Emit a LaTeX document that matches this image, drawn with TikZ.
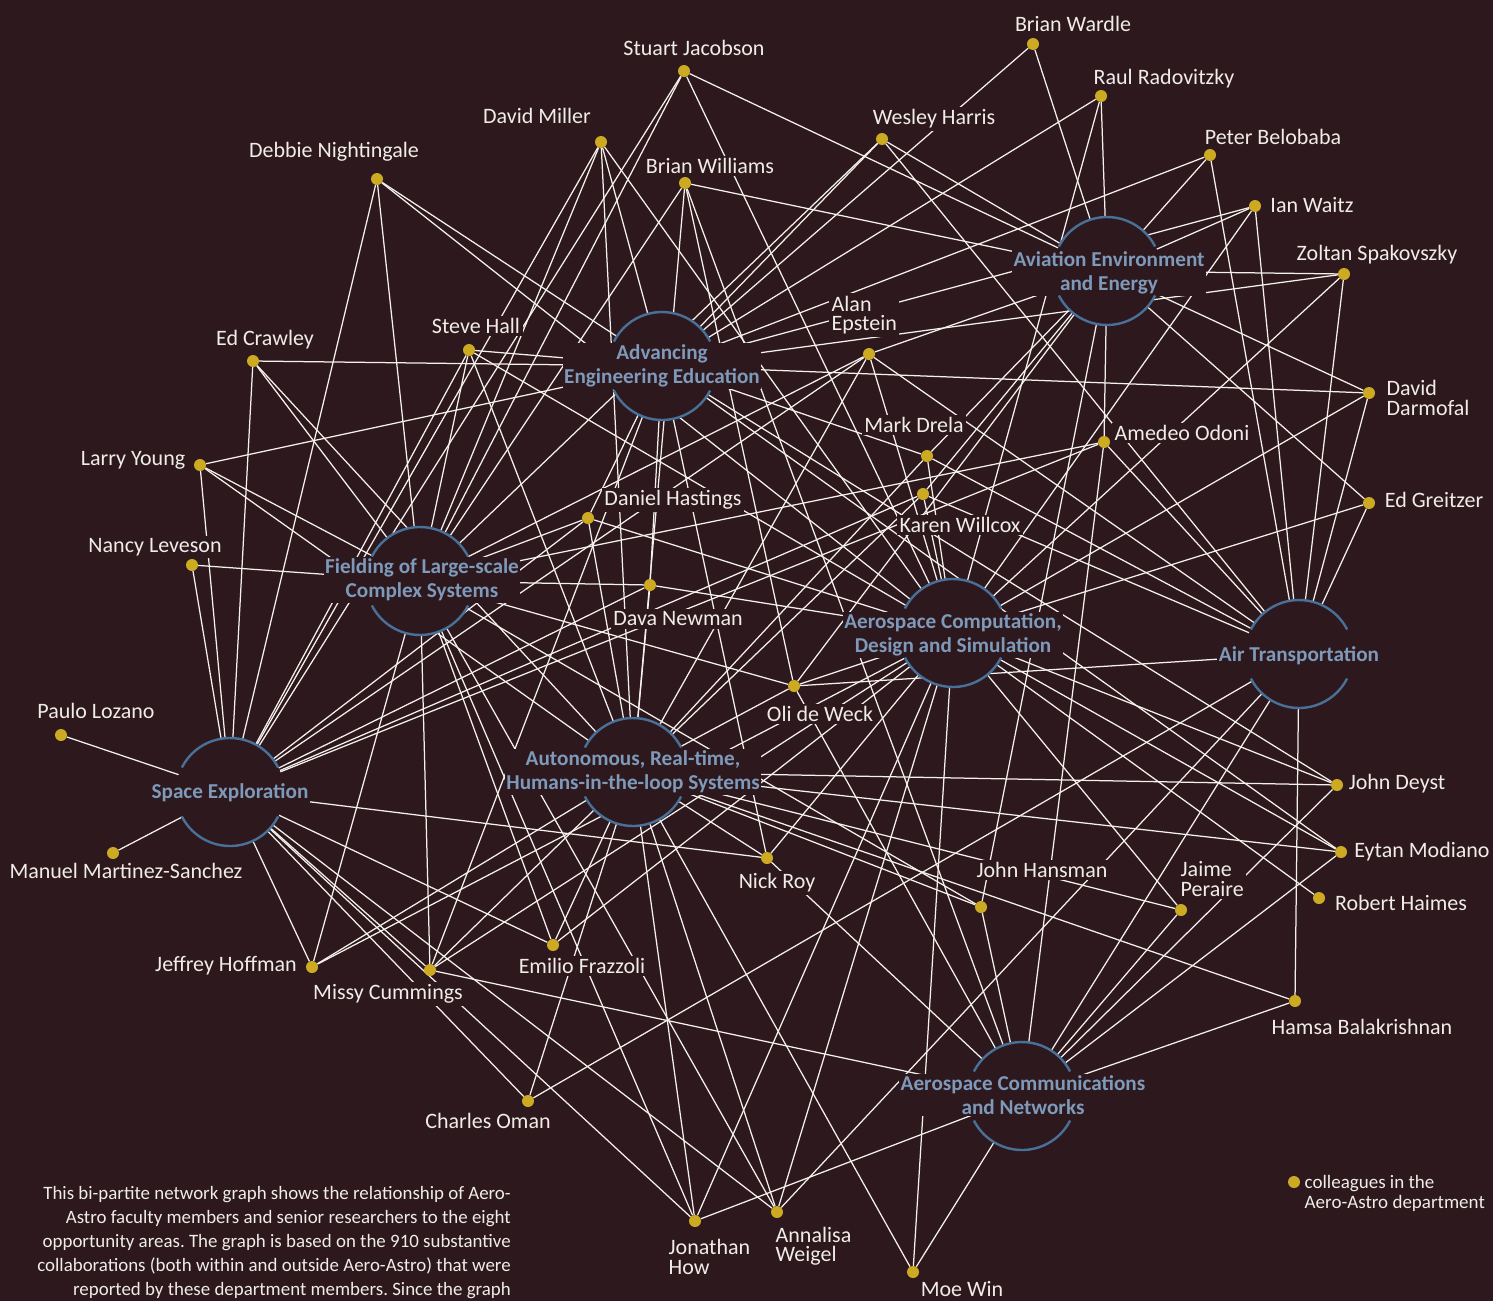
\documentclass[tikz,border=0pt]{standalone}
\usepackage{fontspec}
\setmainfont{Carlito}
\frenchspacing
\usetikzlibrary{positioning}
\definecolor{bgc}{RGB}{45,25,29}
\definecolor{dotc}{RGB}{204,170,34}
\definecolor{edgec}{RGB}{244,240,236}
\definecolor{rimc}{RGB}{72,112,152}
\definecolor{areac}{RGB}{126,153,186}
\definecolor{namec}{RGB}{240,236,232}
\pgfdeclarelayer{back}
\pgfdeclarelayer{links}
\pgfsetlayers{back,links,main}

\begin{document}
\begin{tikzpicture}[
  x=1pt, y=-1pt,
  pdot/.style={circle, fill=dotc, minimum size=12pt, inner sep=0pt},
  hub/.style={circle, fill=bgc, minimum size=108pt, inner sep=0pt},
  rim/.style={draw=rimc, line width=2.4pt},
  link/.style={draw=edgec, line width=1.25pt},
  who/.style={text=namec, fill=bgc, inner sep=2.5pt, font=\fontsize{22}{19.5}\selectfont},
  whol/.style={who, align=left, anchor=west},
  hubtext/.style={text=areac, fill=bgc, inner sep=1.5pt, align=center, font=\bfseries\fontsize{21.2}{24}\selectfont},
  blurbtext/.style={text=namec, align=right, inner sep=0pt, font=\fontsize{18.9}{24}\selectfont},
]
\useasboundingbox (0,0) rectangle (1493,1301);
\begin{pgfonlayer}{back}
  \fill[bgc] (0,0) rectangle (1493,1301);
\end{pgfonlayer}

% opportunity areas
\node[hub] (edu) at (662,366) {};
\node[hub] (aee) at (1107,271) {};
\node[hub] (fls) at (420,581) {};
\node[hub] (spx) at (230,792) {};
\node[hub] (aut) at (633,772) {};
\node[hub] (acd) at (953,633) {};
\node[hub] (air) at (1299,654) {};
\node[hub] (acn) at (1022,1096) {};

\node[hubtext] (edu-t) at (662,366) {Advancing\\Engineering Education};
\node[hubtext] (aee-t) at (1109,273) {Aviation Environment\\and Energy};
\node[hubtext] (fls-t) at (422,580) {Fielding of Large-scale\\Complex Systems};
\node[hubtext] (spx-t) at (230,793) {Space Exploration};
\node[hubtext] (aut-t) at (633,772) {Autonomous, Real-time,\\Humans-in-the-loop Systems};
\node[hubtext] (acd-t) at (953,635) {Aerospace Computation,\\Design and Simulation};
\node[hubtext] (air-t) at (1299,656) {Air Transportation};
\node[hubtext] (acn-t) at (1023,1095) {Aerospace Communications\\and Networks};

% open rings round each area
\foreach \h in {edu,aee,fls,spx,aut,acd,air,acn} {
  \draw[rim] ([shift={(27:54)}]\h.center) arc[start angle=27, end angle=153, radius=54];
  \draw[rim] ([shift={(207:54)}]\h.center) arc[start angle=207, end angle=333, radius=54];
}

% names
\node[who] (wardle-t) at (1073,24) {Brian Wardle};
\node[who] (raul-t) at (1164,79) {Raul Radovitzky};
\node[who] (stuart-t) at (694,48) {Stuart Jacobson};
\node[who] (wesley-t) at (934,119) {Wesley Harris};
\node[who] (belobaba-t) at (1273,137) {Peter Belobaba};
\node[who] (miller-t) at (537,116) {David Miller};
\node[who] (williams-t) at (710,166) {Brian Williams};
\node[who] (nightingale-t) at (334,152) {Debbie Nightingale};
\node[who] (waitz-t) at (1312,205) {Ian Waitz};
\node[who] (zoltan-t) at (1377,255) {Zoltan Spakovszky};
\node[whol] (epstein-t) at (829,315) {Alan\\Epstein};
\node[who] (crawley-t) at (265,340) {Ed Crawley};
\node[who] (hall-t) at (476,326) {Steve Hall};
\node[whol] (darmofal-t) at (1384,398) {David\\Darmofal};
\node[who] (drela-t) at (914,425) {Mark Drela};
\node[who] (odoni-t) at (1182,433) {Amedeo Odoni};
\node[who] (young-t) at (133,460) {Larry Young};
\node[who] (hastings-t) at (673,500) {Daniel Hastings};
\node[who] (willcox-t) at (960,525) {Karen Willcox};
\node[who] (greitzer-t) at (1434,500) {Ed Greitzer};
\node[who] (leveson-t) at (155,547) {Nancy Leveson};
\node[who] (newman-t) at (678,619) {Dava Newman};
\node[who] (deweck-t) at (820,714) {Oli de Weck};
\node[who] (lozano-t) at (96,711) {Paulo Lozano};
\node[who] (deyst-t) at (1397,784) {John Deyst};
\node[who] (modiano-t) at (1422,852) {Eytan Modiano};
\node[who] (martinez-t) at (126,871) {Manuel Martinez-Sanchez};
\node[who] (roy-t) at (777,883) {Nick Roy};
\node[who] (hansman-t) at (1042,870) {John Hansman};
\node[whol] (peraire-t) at (1178,879) {Jaime\\Peraire};
\node[who] (haimes-t) at (1401,903) {Robert Haimes};
\node[who] (frazzoli-t) at (582,966) {Emilio Frazzoli};
\node[who] (hoffman-t) at (226,966) {Jeffrey Hoffman};
\node[who] (cummings-t) at (388,994) {Missy Cummings};
\node[who] (balakrishnan-t) at (1362,1027) {Hamsa Balakrishnan};
\node[who] (oman-t) at (488,1121) {Charles Oman};
\node[whol] (how-t) at (666,1257) {Jonathan\\How};
\node[whol] (weigel-t) at (773,1246) {Annalisa\\Weigel};
\node[who] (win-t) at (962,1289) {Moe Win};

% department members
\node[pdot] (wardle) at (1033,44) {};
\node[pdot] (raul) at (1101,96) {};
\node[pdot] (stuart) at (684,71) {};
\node[pdot] (wesley) at (882,139) {};
\node[pdot] (belobaba) at (1210,155) {};
\node[pdot] (miller) at (601,142) {};
\node[pdot] (williams) at (685,183) {};
\node[pdot] (nightingale) at (377,179) {};
\node[pdot] (waitz) at (1255,206) {};
\node[pdot] (zoltan) at (1344,274) {};
\node[pdot] (epstein) at (869,354) {};
\node[pdot] (crawley) at (253,361) {};
\node[pdot] (hall) at (469,350) {};
\node[pdot] (darmofal) at (1369,393) {};
\node[pdot] (drela) at (927,456) {};
\node[pdot] (odoni) at (1104,442) {};
\node[pdot] (young) at (200,465) {};
\node[pdot] (hastings) at (588,518) {};
\node[pdot] (willcox) at (923,494) {};
\node[pdot] (greitzer) at (1369,503) {};
\node[pdot] (leveson) at (192,565) {};
\node[pdot] (newman) at (650,585) {};
\node[pdot] (deweck) at (794,686) {};
\node[pdot] (lozano) at (61,735) {};
\node[pdot] (deyst) at (1337,785) {};
\node[pdot] (modiano) at (1341,852) {};
\node[pdot] (martinez) at (113,853) {};
\node[pdot] (roy) at (767,858) {};
\node[pdot] (hansman) at (981,907) {};
\node[pdot] (peraire) at (1181,910) {};
\node[pdot] (haimes) at (1319,898) {};
\node[pdot] (frazzoli) at (553,945) {};
\node[pdot] (hoffman) at (312,967) {};
\node[pdot] (cummings) at (430,970) {};
\node[pdot] (balakrishnan) at (1295,1001) {};
\node[pdot] (oman) at (528,1101) {};
\node[pdot] (how) at (695,1221) {};
\node[pdot] (weigel) at (777,1212) {};
\node[pdot] (win) at (913,1272) {};

% legend and note
\node[pdot] (key) at (1294,1182) {};
\node[whol, font=\fontsize{19}{20}\selectfont] (key-t) at (1302,1193) {colleagues in the\\Aero-Astro department};
\node[blurbtext, anchor=north east] (blurb) at (511,1186) {This bi-partite network graph shows the relationship of Aero-\\Astro faculty members and senior researchers to the eight\\opportunity areas. The graph is based on the 910 substantive\\collaborations (both within and outside Aero-Astro) that were\\reported by these department members. Since the graph};

% collaborations
\begin{pgfonlayer}{links}
\foreach \p/\q in {wardle/edu, wardle/aee,
  raul/edu, raul/acd, raul/aee,
  stuart/fls, stuart/spx, stuart/acd, stuart/aee,
  wesley/edu, wesley/fls, wesley/aee, wesley/air,
  belobaba/edu, belobaba/aee, belobaba/air,
  miller/spx, miller/fls, miller/edu, miller/aut, miller/acd,
  williams/fls, williams/aut, williams/acn, williams/aee, williams/deweck,
  nightingale/spx, nightingale/fls, nightingale/edu, nightingale/acd,
  waitz/edu, waitz/aee, waitz/acd, waitz/air,
  zoltan/aee, zoltan/edu, zoltan/acd, zoltan/air,
  epstein/aee, epstein/fls, epstein/aut, epstein/spx, epstein/acd, epstein/air,
  crawley/edu, crawley/spx, crawley/fls, crawley/aut,
  hall/edu, hall/acd, hall/aut, hall/spx, hall/fls,
  darmofal/edu, darmofal/aee, darmofal/acd, darmofal/air,
  drela/edu, drela/aee, drela/acd, drela/air, drela/aut,
  odoni/fls, odoni/aee, odoni/acn, odoni/air, odoni/spx,
  young/edu, young/fls, young/aut, young/spx,
  hastings/fls, hastings/spx, hastings/edu, hastings/aut, hastings/acd,
  willcox/aee, willcox/spx, willcox/acd, willcox/air, willcox/aut,
  greitzer/aee, greitzer/acd, greitzer/air,
  leveson/fls, leveson/spx,
  newman/fls, newman/spx, newman/edu, newman/aut, newman/acd,
  deweck/fls, deweck/acd, deweck/air, deweck/aee, deweck/acn, deweck/aut,
  lozano/spx, martinez/spx,
  deyst/aut, deyst/edu, deyst/acd, deyst/acn,
  modiano/aut, modiano/acd, modiano/edu, modiano/acn,
  roy/spx, roy/aut, roy/edu, roy/acd, roy/acn,
  hansman/aee, hansman/aut, hansman/fls, hansman/acn,
  peraire/aut, peraire/acd, peraire/acn,
  haimes/acd,
  frazzoli/spx, frazzoli/fls, frazzoli/aut, frazzoli/acd,
  hoffman/spx, hoffman/fls, hoffman/aut, hoffman/acd,
  cummings/fls, cummings/edu, cummings/aut, cummings/acd, cummings/acn, cummings/spx,
  balakrishnan/air, balakrishnan/aut, balakrishnan/acn,
  oman/spx, oman/aut, oman/air,
  how/spx, how/fls, how/aut, how/acd, how/acn,
  weigel/spx, weigel/fls, weigel/aut, weigel/acd, weigel/air,
  win/aut, win/acd, win/air}
  \draw[link] (\p) -- (\q);
\end{pgfonlayer}
\end{tikzpicture}
\end{document}
